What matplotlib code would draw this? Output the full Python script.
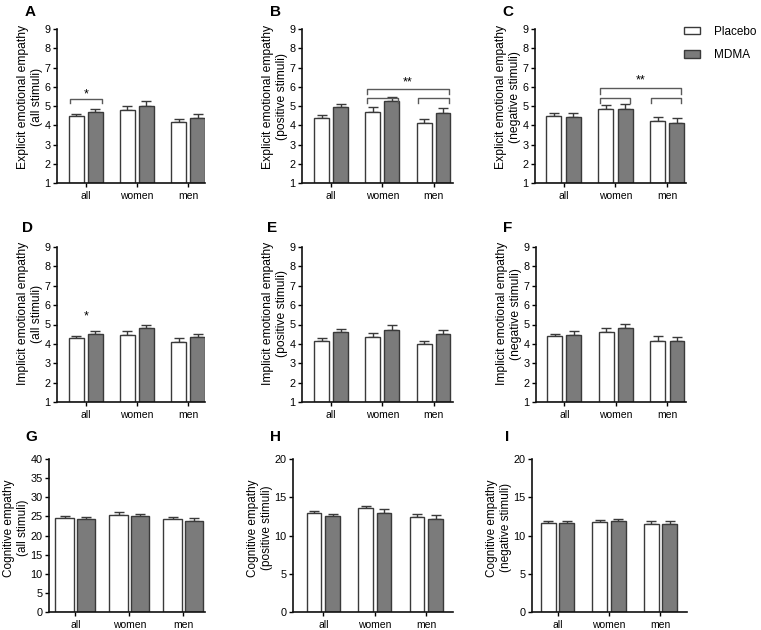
import matplotlib
matplotlib.use("Agg")
import matplotlib.pyplot as plt
from matplotlib.patches import Patch
import numpy as np

plt.rcParams['font.family'] = ['Liberation Sans', 'DejaVu Sans']

groups = ["all", "women", "men"]
series = ["Placebo", "MDMA"]

A_placebo = [4.46, 4.81, 4.16]
A_placebo_err = [0.14, 0.17, 0.18]
A_mdma = [4.71, 5.02, 4.40]
A_mdma_err = [0.13, 0.22, 0.17]

B_placebo = [4.38, 4.71, 4.10]
B_placebo_err = [0.16, 0.22, 0.23]
B_mdma = [4.93, 5.24, 4.66]
B_mdma_err = [0.17, 0.24, 0.23]

C_placebo = [4.48, 4.83, 4.20]
C_placebo_err = [0.18, 0.23, 0.25]
C_mdma = [4.45, 4.85, 4.14]
C_mdma_err = [0.19, 0.24, 0.22]

D_placebo = [4.28, 4.48, 4.09]
D_placebo_err = [0.12, 0.21, 0.22]
D_mdma = [4.53, 4.80, 4.34]
D_mdma_err = [0.16, 0.20, 0.19]

E_placebo = [4.14, 4.34, 3.97]
E_placebo_err = [0.17, 0.23, 0.20]
E_mdma = [4.59, 4.74, 4.52]
E_mdma_err = [0.19, 0.23, 0.19]

F_placebo = [4.40, 4.62, 4.16]
F_placebo_err = [0.13, 0.21, 0.24]
F_mdma = [4.48, 4.83, 4.14]
F_mdma_err = [0.16, 0.20, 0.22]

G_placebo = [24.7, 25.45, 24.2]
G_placebo_err = [0.4, 0.65, 0.6]
G_mdma = [24.4, 25.1, 23.8]
G_mdma_err = [0.5, 0.6, 0.8]

H_placebo = [12.9, 13.53, 12.41]
H_placebo_err = [0.30, 0.31, 0.35]
H_mdma = [12.5, 13.0, 12.2]
H_mdma_err = [0.34, 0.40, 0.43]

I_placebo = [11.64, 11.77, 11.55]
I_placebo_err = [0.30, 0.30, 0.39]
I_mdma = [11.64, 11.94, 11.47]
I_mdma_err = [0.30, 0.26, 0.38]

ylabels = {
    "A": "Explicit emotional empathy\n(all stimuli)",
    "B": "Explicit emotional empathy\n(positive stimuli)",
    "C": "Explicit emotional empathy\n(negative stimuli)",
    "D": "Implicit emotional empathy\n(all stimuli)",
    "E": "Implicit emotional empathy\n(positive stimuli)",
    "F": "Implicit emotional empathy\n(negative stimuli)",
    "G": "Cognitive empathy\n(all stimuli)",
    "H": "Cognitive empathy\n(positive stimuli)",
    "I": "Cognitive empathy\n(negative stimuli)",
}

panel_data = {
    "A": (A_placebo, A_placebo_err, A_mdma, A_mdma_err),
    "B": (B_placebo, B_placebo_err, B_mdma, B_mdma_err),
    "C": (C_placebo, C_placebo_err, C_mdma, C_mdma_err),
    "D": (D_placebo, D_placebo_err, D_mdma, D_mdma_err),
    "E": (E_placebo, E_placebo_err, E_mdma, E_mdma_err),
    "F": (F_placebo, F_placebo_err, F_mdma, F_mdma_err),
    "G": (G_placebo, G_placebo_err, G_mdma, G_mdma_err),
    "H": (H_placebo, H_placebo_err, H_mdma, H_mdma_err),
    "I": (I_placebo, I_placebo_err, I_mdma, I_mdma_err),
}

W, H = 761, 630
fig = plt.figure(figsize=(W / 100, H / 100), dpi=100)

def px(l, r, t, b):
    return [l / W, 1 - b / H, (r - l) / W, (b - t) / H]

layout = {
    "A": dict(box=(57, 205, 29, 183), xlim=(-0.56, 2.33), bw=0.29, off=0.185, ylim=(1, 9), yt=range(1, 10), lt=(25, 12), ly=0.56, lfs=8.7),
    "B": dict(box=(302, 453, 29, 183), xlim=(-0.57, 2.38), bw=0.29, off=0.185, ylim=(1, 9), yt=range(1, 10), lt=(270, 12), ly=0.56, lfs=8.7),
    "C": dict(box=(535, 686, 29, 183), xlim=(-0.55, 2.36), bw=0.29, off=0.185, ylim=(1, 9), yt=range(1, 10), lt=(502, 12), ly=0.56, lfs=8.7),
    "D": dict(box=(57, 205, 247, 402), xlim=(-0.56, 2.33), bw=0.29, off=0.185, ylim=(1, 9), yt=range(1, 10), lt=(22, 228), ly=0.57, lfs=8.7),
    "E": dict(box=(302, 453, 247, 402), xlim=(-0.57, 2.38), bw=0.29, off=0.185, ylim=(1, 9), yt=range(1, 10), lt=(267, 228), ly=0.57, lfs=8.7),
    "F": dict(box=(536, 686, 247, 402), xlim=(-0.55, 2.36), bw=0.29, off=0.185, ylim=(1, 9), yt=range(1, 10), lt=(503, 228), ly=0.57, lfs=8.7),
    "G": dict(box=(49, 205, 459, 612), xlim=(-0.49, 2.40), bw=0.34, off=0.2, ylim=(0, 40), yt=range(0, 41, 5), lt=(25, 437), ly=0.55, lfs=8.5),
    "H": dict(box=(293, 453, 459, 612), xlim=(-0.59, 2.52), bw=0.28, off=0.18, ylim=(0, 20), yt=range(0, 21, 5), lt=(270, 437), ly=0.55, lfs=8.5),
    "I": dict(box=(532, 687, 459, 612), xlim=(-0.50, 2.52), bw=0.29, off=0.18, ylim=(0, 20), yt=range(0, 21, 5), lt=(505, 437), ly=0.55, lfs=8.5),
}

edge = "#3a3a3a"
mdma_fill = "#7b7b7b"
br_col = "#5a5a5a"
fs = 7.5
x = np.arange(len(groups))

axes = {}
for key, (p, pe, m, me) in panel_data.items():
    L = layout[key]
    ax = fig.add_axes(px(*L["box"]))
    axes[key] = ax
    y0 = L["ylim"][0]
    bw, off = L["bw"], L["off"]
    p = np.array(p); m = np.array(m)
    ax.bar(x - off, p - y0, bottom=y0, width=bw, color="white", edgecolor=edge, linewidth=1.0, zorder=2)
    ax.bar(x + off, m - y0, bottom=y0, width=bw, color=mdma_fill, edgecolor=edge, linewidth=1.0, zorder=2)
    ax.errorbar(x - off, p, yerr=[np.zeros(3), pe], fmt="none", ecolor=edge, elinewidth=1.0, capsize=3.5, capthick=1.0, zorder=1)
    ax.errorbar(x + off, m, yerr=[np.zeros(3), me], fmt="none", ecolor=edge, elinewidth=1.0, capsize=3.5, capthick=1.0, zorder=1)
    ax.set_xlim(*L["xlim"])
    ax.set_ylim(*L["ylim"])
    ax.set_yticks(list(L["yt"]))
    ax.set_xticks(x)
    ax.set_xticklabels(groups, fontsize=fs)
    ax.tick_params(axis="y", labelsize=fs + 0.3, length=3, width=1.0, pad=1.5)
    ax.tick_params(axis="x", length=3, width=1.0, pad=3)
    for s in ("top", "right"):
        ax.spines[s].set_visible(False)
    for s in ("left", "bottom"):
        ax.spines[s].set_linewidth(1.2)
        ax.spines[s].set_color("#111111")
    ax.set_ylabel(ylabels[key], fontsize=L["lfs"], labelpad=1.0, linespacing=1.2)
    ax.yaxis.label.set_y(L["ly"])
    lx, ly = L["lt"]
    fig.text(lx / W, 1 - ly / H, key, fontsize=11, fontweight="bold", va="center", ha="left")

def bracket(ax, x1, x2, y, drop, col=br_col):
    ax.plot([x1, x1, x2, x2], [y - drop, y, y, y - drop], color=col, lw=1.0, clip_on=False)

bracket(axes["A"], -0.31, 0.31, 5.35, 0.2)
axes["A"].text(0, 5.62, "*", ha="center", va="center", fontsize=9)

bracket(axes["B"], 1 - 0.3, 2 + 0.31, 5.89, 0.26)
bracket(axes["B"], 1 - 0.3, 1 + 0.31, 5.42, 0.28)
bracket(axes["B"], 2 - 0.31, 2 + 0.31, 5.42, 0.28)
axes["B"].text(1.5, 6.22, "**", ha="center", va="center", fontsize=9)

bracket(axes["C"], 1 - 0.3, 2 + 0.27, 5.94, 0.31)
bracket(axes["C"], 1 - 0.3, 1 + 0.28, 5.42, 0.28)
bracket(axes["C"], 2 - 0.31, 2 + 0.27, 5.42, 0.28)
axes["C"].text(1.48, 6.35, "**", ha="center", va="center", fontsize=9)

axes["D"].text(0, 5.42, "*", ha="center", va="center", fontsize=9)

handles = [Patch(facecolor="white", edgecolor=edge, linewidth=1.0),
           Patch(facecolor=mdma_fill, edgecolor=edge, linewidth=1.0)]
fig.legend(handles, series, loc="upper left", bbox_to_anchor=(680 / W, 1 - 22 / H),
           frameon=False, fontsize=8.5, handlelength=1.4, handleheight=0.6,
           handletextpad=1.2, labelspacing=1.0, borderaxespad=0, borderpad=0.3)

fig.savefig("out.png", dpi=100)
